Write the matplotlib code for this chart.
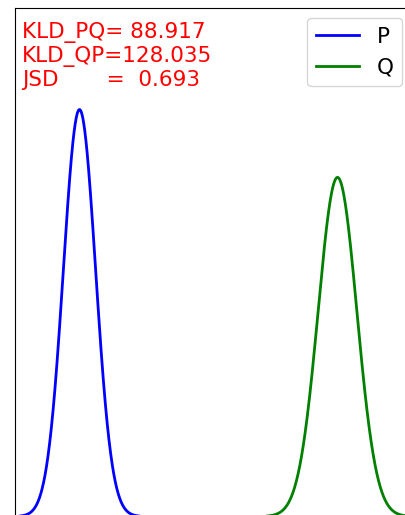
import numpy as np
import matplotlib
matplotlib.use("Agg")
import matplotlib.pyplot as plt

# two normal distributions and their divergences
mu_p, sigma_p = 0.0, 1.0
mu_q, sigma_q = 16.0, 1.2
kld_pq = 88.917
kld_qp = 128.035
jsd = 0.693

x = np.linspace(-4, 22, 2000)
p = np.exp(-(x - mu_p)**2 / (2 * sigma_p**2)) / (sigma_p * np.sqrt(2 * np.pi))
q = np.exp(-(x - mu_q)**2 / (2 * sigma_q**2)) / (sigma_q * np.sqrt(2 * np.pi))

W, H = 406, 515
fig = plt.figure(figsize=(W / 100, H / 100), dpi=100)

# axes spill past the right and bottom edges
left, top = 15, 8
px_x = 16.125
px_y = 1020
xlo, xhi = -4, 22
ylo, yhi = -0.02, 0.4985
aw = (xhi - xlo) * px_x
ah = (yhi - ylo) * px_y
ax = fig.add_axes([left / W, 1 - (top + ah) / H, aw / W, ah / H])

ax.plot(x, p, color='blue', lw=2, label='P')
ax.plot(x, q, color='green', lw=2, label='Q')
ax.set_xlim(xlo, xhi)
ax.set_ylim(ylo, yhi)
ax.set_xticks([])
ax.set_yticks([])

fs = 15.5
txt = "KLD_PQ={:7.3f}\nKLD_QP={:7.3f}\nJSD       = {:6.3f}".format(kld_pq, kld_qp, jsd)
fig.text(22 / W, 1 - 22 / H, txt, color='red', fontsize=fs, va='top', ha='left')

fig.legend(loc='upper right', bbox_to_anchor=(402 / W, 1 - 18 / H),
           borderaxespad=0, fontsize=fs)

plt.savefig('out.png', dpi=100)
